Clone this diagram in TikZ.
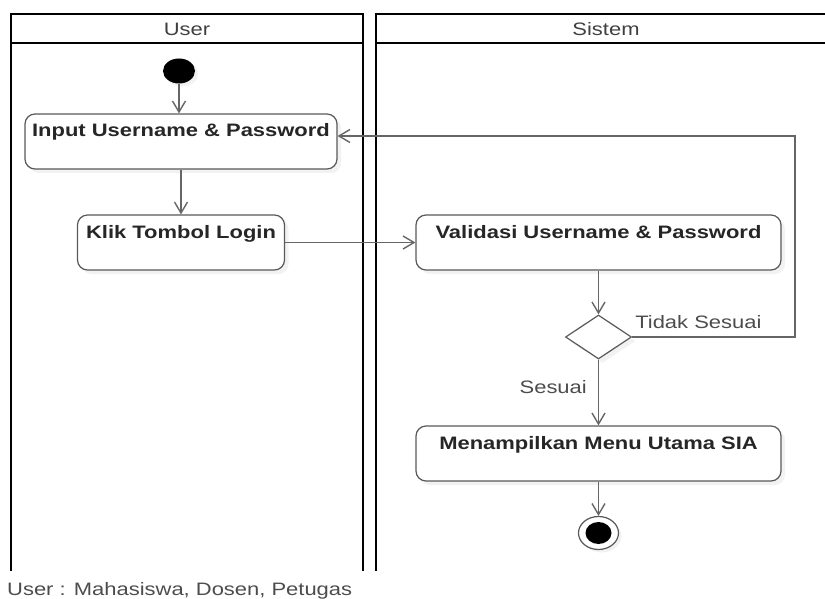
\documentclass[tikz,border=0pt]{standalone}
\usepackage{fontspec}
\setmainfont{Liberation Sans}[FakeStretch=1.22]
\usetikzlibrary{shapes.geometric,arrows.meta,shadows}

\begin{document}
\begin{tikzpicture}[
        x=1pt, y=-1pt,
        font=\fontsize{18}{20}\selectfont,
        lane/.style={draw=black, line width=2.6pt},
        activity/.style={draw=black!65, fill=white, rounded corners=10pt, line width=1.2pt,
            font=\fontsize{18}{20}\selectfont\bfseries, text=black!85,
            text height=23pt, text depth=32pt, inner xsep=0pt, inner ysep=0pt,
            drop shadow={shadow xshift=4pt, shadow yshift=-4pt, fill=black!10, draw=none}},
        decision/.style={diamond, draw=black!65, fill=white, line width=1.2pt, inner sep=0pt,
            minimum width=66pt, minimum height=44pt,
            drop shadow={shadow xshift=4pt, shadow yshift=-4pt, fill=black!10, draw=none}},
        flow/.style={draw=black!60, line width=1.4pt, -{Straight Barb[length=11pt, width=13pt, line width=1.4pt]}},
        guard/.style={text=black!70, inner sep=2pt}
        ]
    \useasboundingbox (0,0) rectangle (825,599);

    % swimlanes (open at the bottom)
    \draw[lane] (11,571) -- (11,14) -- (363,14) -- (363,571);
    \draw[lane] (11,43) -- (363,43);
    \draw[lane] (825,14) -- (376,14) -- (376,571);
    \draw[lane] (376,43) -- (825,43);
    \node[text=black!75] (userhead) at (187,29) {User};
    \node[text=black!75] (sistemhead) at (606,29) {Sistem};

    % activities
    \node[ellipse, fill=black, minimum width=32pt, minimum height=25pt, inner sep=0pt,
        drop shadow={shadow xshift=3pt, shadow yshift=-3pt, fill=black!10}] (start) at (179,71) {};
    \node[activity, minimum width=312pt] (input) at (181,141.5) {Input Username \& Password};
    \node[activity, minimum width=207pt] (klik) at (181,242.5) {Klik Tombol Login};
    \node[activity, minimum width=365pt] (validasi) at (598.5,242.5) {Validasi Username \& Password};
    \node[decision] (cek) at (598.5,337) {};
    \node[activity, minimum width=365pt] (menu) at (598.5,453.5) {Menampilkan Menu Utama SIA};
    \node[ellipse, draw=black!65, fill=white, line width=1.2pt, minimum width=40pt, minimum height=33pt,
        drop shadow={shadow xshift=3pt, shadow yshift=-3pt, fill=black!10, draw=none}] (stop) at (598.5,533) {};
    \node[ellipse, fill=black, minimum width=26pt, minimum height=22pt, inner sep=0pt] (stopdot) at (stop) {};
    \coordinate (back) at (795,136);

    % flows
    \draw[flow] (start) -- (start |- input.north);
    \draw[flow] (input) -- (klik);
    \draw[flow] (klik) -- (validasi);
    \draw[flow] (validasi) -- (cek);
    \draw[flow] (cek) -- node[guard, left=9pt, pos=0.42] {Sesuai} (menu);
    \draw[flow] (cek.east) -| (back) -- (input.east |- back);
    \node[guard, anchor=base west] (tidak) at ([xshift=1pt, yshift=9pt]cek.east) {Tidak Sesuai};
    \draw[flow] (menu) -- (stop);

    \node[text=black!70, anchor=base west, inner sep=0pt] (catatan) at (7,595) {User : Mahasiswa, Dosen, Petugas};
\end{tikzpicture}
\end{document}
